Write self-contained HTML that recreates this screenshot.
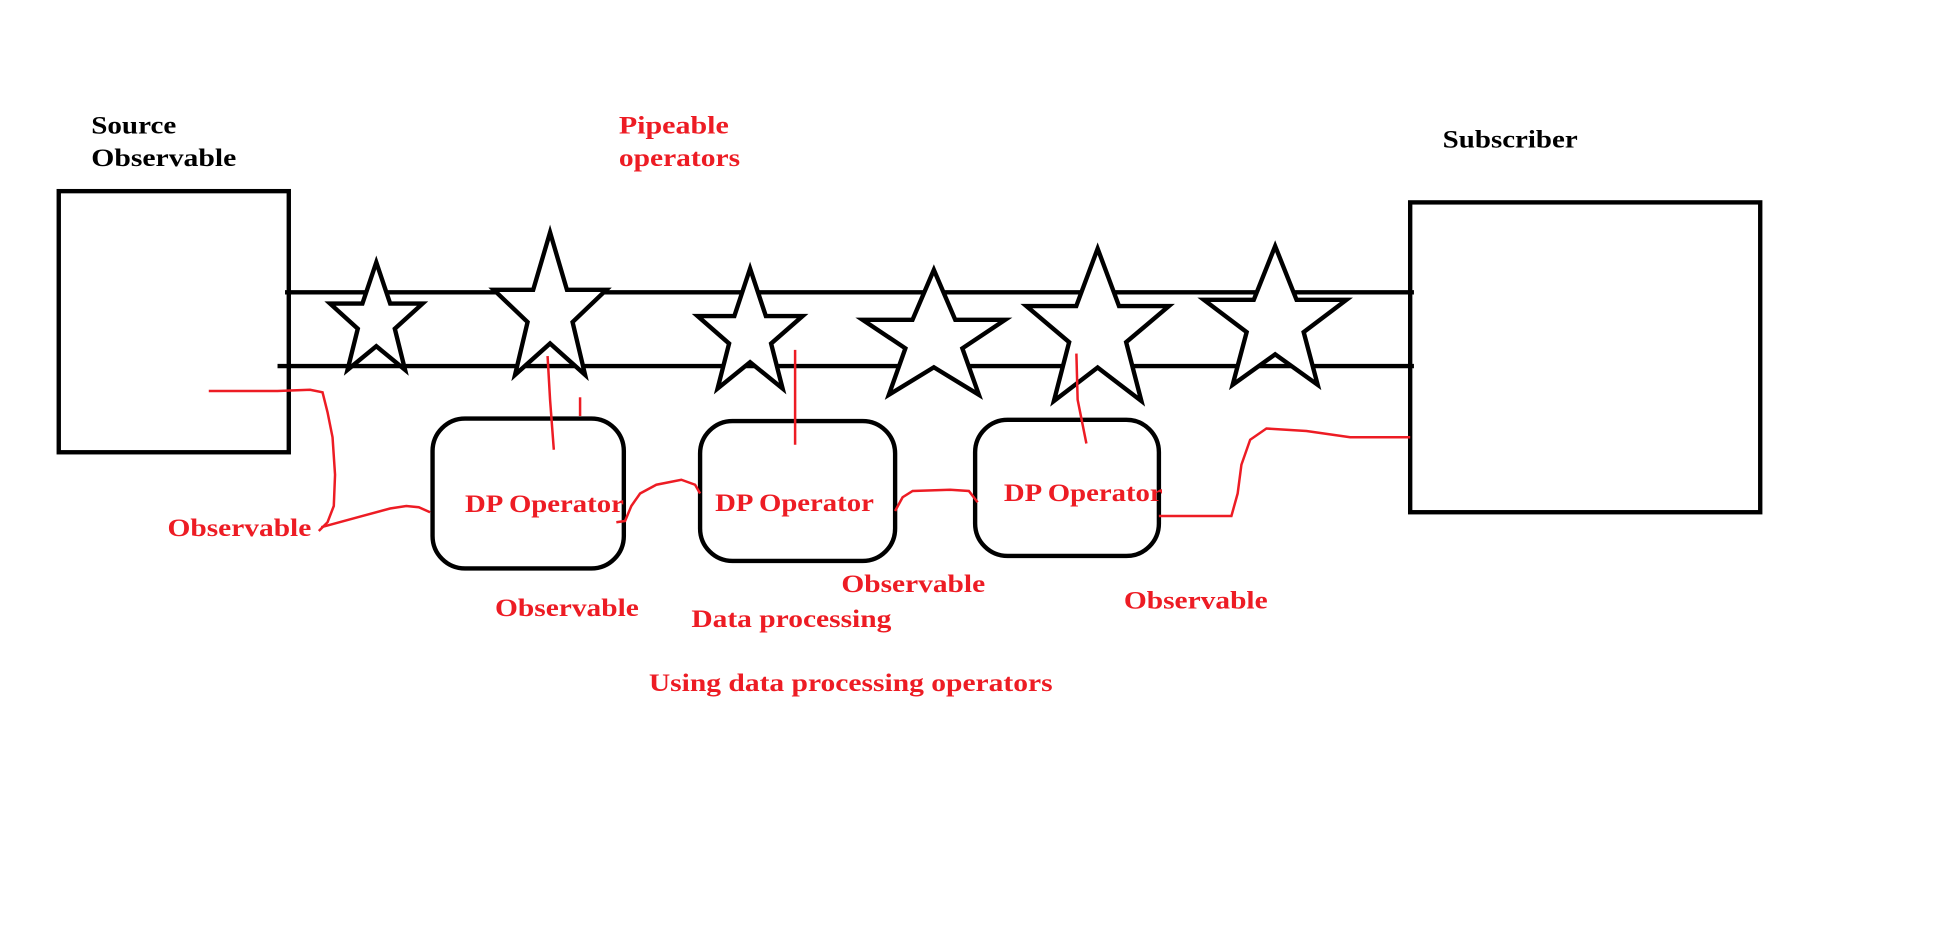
<!DOCTYPE html>
<html><head><meta charset="utf-8"><style>
html,body{margin:0;padding:0;background:#fff;}
svg{display:block;}
text{font-family:"Liberation Serif",serif;font-weight:bold;font-size:20px;}
.r{fill:#ed1c24;}
</style></head><body>
<svg id="s" width="1949" height="952" viewBox="0 0 1559 762" preserveAspectRatio="none" xmlns="http://www.w3.org/2000/svg">
<rect width="1559" height="762" fill="#fff"/>
<g fill="none" stroke="#000" stroke-width="3.5">
<rect x="47" y="153" width="184" height="209"/>
<rect x="1128" y="162" width="280" height="248"/>
<line x1="228" y1="234" x2="1131" y2="234"/>
<line x1="222" y1="293" x2="1131" y2="293"/>
<rect x="346" y="335" width="153" height="120" rx="26"/>
<rect x="560" y="337" width="156" height="112" rx="26"/>
<rect x="780" y="336" width="147" height="109" rx="26"/>
<g id="stars"></g>
</g>
<g fill="none" stroke="#ed1c24" stroke-width="2">
<path d="M167 313 L222 313 L248 312 L258 314 L262 330 L266 350 L268 380 L267 405 L262 418 L255 425"/>
<path d="M257 422 L290 413 L312 407 L325 405 L335 406 L344 410"/>
<path d="M438 285 L440 320 L443 360"/>
<path d="M464 318 L464 333"/>
<path d="M493 418 L500 417 L505 405 L512 395 L525 388 L545 384 L556 388 L560 395"/>
<path d="M636 280 L636 356"/>
<path d="M716 409 L722 398 L730 393 L760 392 L775 393 L782 402"/>
<path d="M861 283 L862 320 L866 340 L869 355"/>
<path d="M927 413 L985 413 L990 395 L993 372 L1000 352 L1013 343 L1045 345 L1080 350 L1128 350"/>
</g>
<text x="73" y="107" textLength="68" lengthAdjust="spacingAndGlyphs">Source</text>
<text x="73" y="133" textLength="116" lengthAdjust="spacingAndGlyphs">Observable</text>
<text x="1154" y="118" textLength="108" lengthAdjust="spacingAndGlyphs">Subscriber</text>
<text class="r" x="495" y="107" textLength="88" lengthAdjust="spacingAndGlyphs">Pipeable</text>
<text class="r" x="495" y="133" textLength="97" lengthAdjust="spacingAndGlyphs">operators</text>
<text class="r" x="134" y="429" textLength="115" lengthAdjust="spacingAndGlyphs">Observable</text>
<text class="r" x="372" y="410" textLength="127" lengthAdjust="spacingAndGlyphs">DP Operator</text>
<text class="r" x="572" y="409" textLength="127" lengthAdjust="spacingAndGlyphs">DP Operator</text>
<text class="r" x="803" y="401" textLength="127" lengthAdjust="spacingAndGlyphs">DP Operator</text>
<text class="r" x="396" y="493" textLength="115" lengthAdjust="spacingAndGlyphs">Observable</text>
<text class="r" x="673" y="474" textLength="115" lengthAdjust="spacingAndGlyphs">Observable</text>
<text class="r" x="553" y="502" textLength="160" lengthAdjust="spacingAndGlyphs">Data processing</text>
<text class="r" x="899" y="487" textLength="115" lengthAdjust="spacingAndGlyphs">Observable</text>
<text class="r" x="519" y="553" textLength="323" lengthAdjust="spacingAndGlyphs">Using data processing operators</text>
</svg>
<script>
var S=[[301,210,243,37,296,23],[440,186,232,45,300,28],[600,215,253,42,311,26],[747,216,256,57,316,36],[878,199,245,57,321,35],[1020,197,240,57,308,34]];
var g=document.getElementById('stars'),h='';
S.forEach(function(a){var cx=a[0],ty=a[1],ay=a[2],hw=a[3],by=a[4],bs=a[5];
var sh=hw*0.3, sy=ay+(by-ay)*0.38, sx=hw*0.4, iy=by-(by-ty)*0.22;
var p=[[cx,ty],[cx+sh,ay],[cx+hw,ay],[cx+sx,sy],[cx+bs,by],[cx,iy],[cx-bs,by],[cx-sx,sy],[cx-hw,ay],[cx-sh,ay]];
h+='<polygon points="'+p.map(function(q){return q[0].toFixed(1)+','+q[1].toFixed(1)}).join(' ')+'" fill="#fff"/>';});
g.innerHTML=h;
</script>
</body></html>
